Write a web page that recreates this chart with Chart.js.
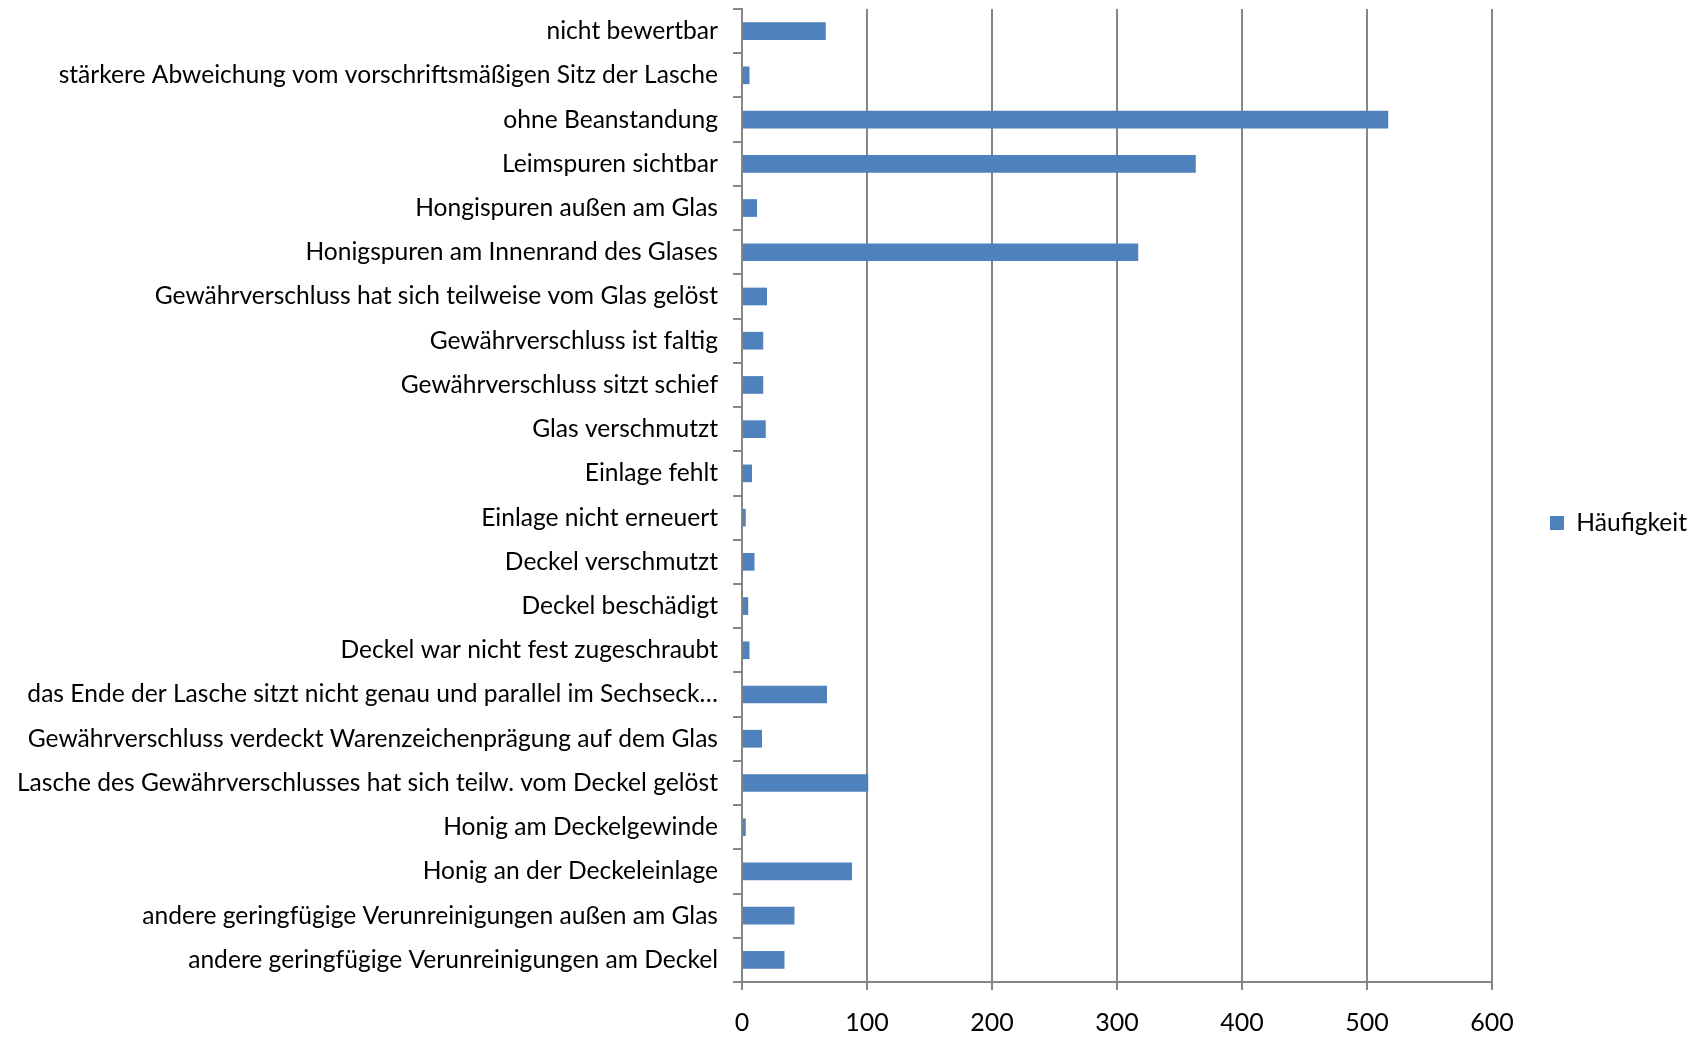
<!DOCTYPE html>
<html>
<head>
<meta charset="utf-8">
<script src="https://cdn.jsdelivr.net/npm/chart.js@4/dist/chart.umd.min.js"></script>
<style>
  html, body { margin: 0; padding: 0; background: #fff; }
  #wrap { width: 1697px; height: 1037px; }
</style>
</head>
<body>
<div id="wrap"><canvas id="chart"></canvas></div>
<script>
const categories = [
  "nicht bewertbar",
  "stärkere Abweichung vom vorschriftsmäßigen Sitz der Lasche",
  "ohne Beanstandung",
  "Leimspuren sichtbar",
  "Hongispuren außen am Glas",
  "Honigspuren am Innenrand des Glases",
  "Gewährverschluss hat sich teilweise vom Glas gelöst",
  "Gewährverschluss ist faltig",
  "Gewährverschluss sitzt schief",
  "Glas verschmutzt",
  "Einlage fehlt",
  "Einlage nicht erneuert",
  "Deckel verschmutzt",
  "Deckel beschädigt",
  "Deckel war nicht fest zugeschraubt",
  "das Ende der Lasche sitzt nicht genau und parallel im Sechseck…",
  "Gewährverschluss verdeckt Warenzeichenprägung auf dem Glas",
  "Lasche des Gewährverschlusses hat sich teilw. vom Deckel gelöst",
  "Honig am Deckelgewinde",
  "Honig an der Deckeleinlage",
  "andere geringfügige Verunreinigungen außen am Glas",
  "andere geringfügige Verunreinigungen am Deckel"
];
const haeufigkeit = [67, 6, 517, 363, 12, 317, 20, 17, 17, 19, 8, 3, 10, 5, 6, 68, 16, 101, 3, 88, 42, 34];
const xTicks = [0, 100, 200, 300, 400, 500, 600];

const fontFamily = "Lato, 'Open Sans', sans-serif";
const gray = "#868686";

new Chart(document.getElementById("chart"), {
  type: "bar",
  data: {
    labels: categories,
    datasets: [{
      label: "Häufigkeit",
      data: haeufigkeit,
      backgroundColor: "#4f81bd",
      borderWidth: 0,
      barPercentage: 0.4,
      categoryPercentage: 1
    }]
  },
  options: {
    indexAxis: "y",
    responsive: true,
    maintainAspectRatio: false,
    animation: false,
    layout: { padding: { top: 9, left: 0, right: 0, bottom: 0 } },
    scales: {
      x: {
        min: 0,
        max: 600,
        afterBuildTicks: s => { s.ticks = xTicks.map(v => ({ value: v })); },
        afterFit: s => { s.height = 55; },
        grid: { color: gray, lineWidth: 2, tickLength: 8 },
        border: { color: gray, width: 2 },
        ticks: { color: "#000", padding: 18, font: { family: fontFamily, size: 25 } }
      },
      y: {
        afterFit: s => { s.width = 742; s.paddingTop = 0; s.paddingBottom = 0; },
        grid: { offset: true, drawOnChartArea: false, color: gray, lineWidth: 2, tickLength: 9 },
        border: { color: gray, width: 2 },
        ticks: { color: "#000", padding: 15, autoSkip: false, font: { family: fontFamily, size: 24.6 } }
      }
    },
    plugins: {
      legend: {
        position: "right",
        align: "center",
        labels: {
          boxWidth: 14,
          boxHeight: 14,
          padding: 58,
          color: "#000",
          font: { family: fontFamily, size: 24.6 }
        }
      },
      tooltip: { enabled: false }
    }
  }
});
</script>
</body>
</html>
